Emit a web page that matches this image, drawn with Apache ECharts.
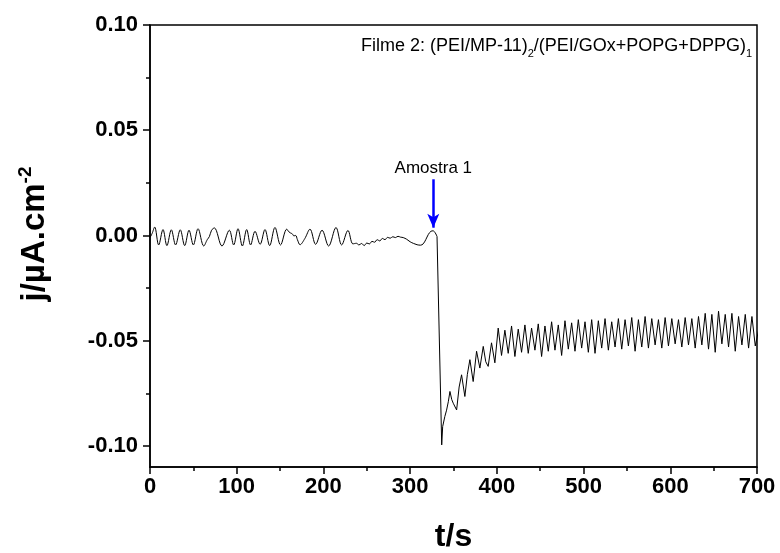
<!DOCTYPE html>
<html><head><meta charset="utf-8">
<script src="https://cdn.jsdelivr.net/npm/echarts@6/dist/echarts.min.js"></script>
<style>html,body{margin:0;padding:0;background:#fff}#c{width:780px;height:553px}</style>
</head><body><div id="c"></div>
<script>
// Baseline segment (before sample addition), t in s, j in µA.cm-2
const baseT = [0, 2.5, 5.4, 10, 15, 19.5, 24.6, 29.5, 34.9, 40, 45, 50, 55.4, 62, 66, 68.5, 71, 74.2, 83, 91.5, 96.5, 101.5, 106.5, 111.5, 116, 121.1, 127, 132.6, 138, 144.1, 150.5, 157.7, 160, 162, 164, 166, 168, 170, 173, 178.5, 184.5, 191, 198.4, 206, 214.5, 221, 228.3, 234, 238, 241, 244, 247, 250, 253, 256, 259, 262, 265, 268, 271, 274, 277, 280, 283, 286, 289, 292, 296, 300, 304, 308, 312, 315, 318, 321, 324, 326.5, 329, 331];
const baseV = [-0.0010, 0.0010, 0.0040, -0.0045, 0.0028, -0.0048, 0.0027, -0.0045, 0.0027, -0.0048, 0.0025, -0.0045, 0.0032, -0.0050, -0.0020, -0.0005, 0.0025, 0.0036, -0.0050, 0.0025, -0.0045, 0.0032, -0.0050, 0.0028, -0.0045, 0.0020, -0.0042, 0.0028, -0.0048, 0.0038, -0.0045, 0.0030, 0.0018, 0.0012, 0.0008, -0.0002, 0.0000, -0.0020, -0.0044, -0.0015, 0.0030, -0.0042, 0.0025, -0.0050, 0.0038, -0.0045, 0.0024, -0.0040, -0.0037, -0.0045, -0.0038, -0.0048, -0.0036, -0.0040, -0.0028, -0.0032, -0.0020, -0.0026, -0.0014, -0.0020, -0.0009, -0.0013, -0.0006, -0.0010, -0.0004, -0.0008, -0.0010, -0.0018, -0.0030, -0.0038, -0.0044, -0.0046, -0.0040, -0.0020, 0.0005, 0.0020, 0.0022, 0.0012, -0.0005];

// Drop and early recovery
const recT = [331, 336.4, 337.5, 340, 342, 344, 345.9, 348, 349.7, 351.5, 353.6, 356.5, 359.3, 363.1, 366, 368.9, 372.7, 376.6, 380.4, 384.3, 387.2];
const recV = [-0.0005, -0.0995, -0.0908, -0.0860, -0.0830, -0.0790, -0.0741, -0.0780, -0.0797, -0.0790, -0.0829, -0.0720, -0.0662, -0.0765, -0.0660, -0.0590, -0.0694, -0.0550, -0.0630, -0.0527, -0.0600];

// Oscillating plateau, read peak/trough by peak/trough
const oscStart = 390;
const oscStep = 3.85;
const oscV = [-0.0622, -0.0510, -0.0605, -0.0440, -0.0570, -0.0450, -0.0560, -0.0430, -0.0575, -0.0445,
  -0.0555, -0.0425, -0.0560, -0.0440, -0.0545, -0.0420, -0.0575, -0.0430, -0.0550, -0.0410,
  -0.0545, -0.0425, -0.0570, -0.0405, -0.0540, -0.0415, -0.0550, -0.0400, -0.0535, -0.0410,
  -0.0555, -0.0400, -0.0560, -0.0405, -0.0535, -0.0395, -0.0545, -0.0410, -0.0530, -0.0395,
  -0.0540, -0.0400, -0.0525, -0.0390, -0.0550, -0.0400, -0.0530, -0.0385, -0.0535, -0.0395,
  -0.0520, -0.0400, -0.0535, -0.0390, -0.0525, -0.0395, -0.0515, -0.0400, -0.0530, -0.0390,
  -0.0520, -0.0395, -0.0535, -0.0385, -0.0520, -0.0370, -0.0540, -0.0375, -0.0555, -0.0360,
  -0.0515, -0.0375, -0.0530, -0.0370, -0.0550, -0.0385, -0.0520, -0.0375, -0.0535, -0.0385,
  -0.0525, -0.0450];

const yTicks = [-0.10, -0.05, 0.00, 0.05, 0.10];
const yMinorTicks = [-0.075, -0.025, 0.025, 0.075];
const xName = 't/s';
const yName = 'j/µA.cm';
const yNameSup = '-2';
const filmLabel = ['Filme 2: (PEI/MP-11)', '2', '/(PEI/GOx+POPG+DPPG)', '1'];
const sampleLabel = 'Amostra 1';
const sampleArrow = { t: 326.7, from: 0.0267, to: 0.0037 };

const FONT = '"Liberation Sans", Arial, Helvetica, sans-serif';
const baseData = baseT.map((t, i) => [t, baseV[i]]);
const postData = recT.map((t, i) => [t, recV[i]])
  .concat(oscV.map((v, i) => [oscStart + i * oscStep, v]));

const chart = echarts.init(document.getElementById('c'));
const tickStyle = { color: '#000', width: 1.5 };
chart.setOption({
  animation: false,
  backgroundColor: '#fff',
  grid: { left: 150, right: 23, top: 25, bottom: 86, show: true, borderColor: '#000', borderWidth: 1.5, containLabel: false, outerBoundsMode: 'none' },
  xAxis: {
    type: 'value', min: 0, max: 700, interval: 100,
    name: xName, nameLocation: 'middle', nameGap: 54,
    nameTextStyle: { fontFamily: FONT, fontWeight: 'bold', fontSize: 32, color: '#000' },
    axisLine: { show: true, onZero: false, lineStyle: tickStyle },
    axisTick: { show: true, length: 7, lineStyle: tickStyle },
    minorTick: { show: true, splitNumber: 2, length: 4, lineStyle: tickStyle },
    axisLabel: { margin: 9, fontFamily: FONT, fontWeight: 'bold', fontSize: 22, color: '#000' },
    splitLine: { show: false }, minorSplitLine: { show: false }
  },
  yAxis: [{
    type: 'value', min: -0.11, max: 0.10, position: 'left',
    name: '{a|' + yName + '}{s|' + yNameSup + '}', nameLocation: 'middle', nameGap: 96, nameRotate: 90,
    nameTextStyle: {
      padding: [0, 0, 0, 24],
      rich: {
        a: { fontFamily: FONT, fontWeight: 'bold', fontSize: 33, color: '#000', lineHeight: 38 },
        s: { fontFamily: FONT, fontWeight: 'bold', fontSize: 19, color: '#000', verticalAlign: 'top' }
      }
    },
    axisLine: { show: true, onZero: false, lineStyle: tickStyle },
    axisTick: { show: true, length: 7, lineStyle: tickStyle, customValues: yTicks },
    axisLabel: {
      margin: 12, fontFamily: FONT, fontWeight: 'bold', fontSize: 22, color: '#000',
      customValues: yTicks, formatter: v => v.toFixed(2)
    },
    splitLine: { show: false }
  }, {
    type: 'value', min: -0.11, max: 0.10, position: 'left', offset: 0,
    axisLine: { show: false },
    axisTick: { show: true, length: 4, lineStyle: tickStyle, customValues: yMinorTicks },
    axisLabel: { show: false },
    splitLine: { show: false }
  }],
  graphic: [{
    type: 'text', right: 28, top: 37,
    style: {
      text: '{a|' + filmLabel[0] + '}{b|' + filmLabel[1] + '}{a|' + filmLabel[2] + '}{b|' + filmLabel[3] + '}',
      rich: {
        a: { fontFamily: FONT, fontSize: 18, fill: '#000', lineHeight: 26 },
        b: { fontFamily: FONT, fontSize: 11, fill: '#000', verticalAlign: 'bottom' }
      }
    }
  }],
  series: [{
    type: 'line', data: baseData, showSymbol: false, smooth: 0.35,
    lineStyle: { color: '#000', width: 1 }, yAxisIndex: 0
  }, {
    type: 'line', data: postData, showSymbol: false, smooth: false,
    lineStyle: { color: '#000', width: 1 }, yAxisIndex: 0,
    markLine: {
      silent: true, animation: false,
      symbol: ['none', 'arrow'], symbolSize: [9, 14],
      lineStyle: { color: '#0000ff', width: 2.5, type: 'solid' },
      label: {
        show: true, position: 'start', formatter: sampleLabel, distance: 2,
        fontFamily: FONT, fontSize: 17, color: '#000'
      },
      data: [[{ coord: [sampleArrow.t, sampleArrow.from] }, { coord: [sampleArrow.t, sampleArrow.to] }]]
    }
  }]
});
</script>
</body></html>
